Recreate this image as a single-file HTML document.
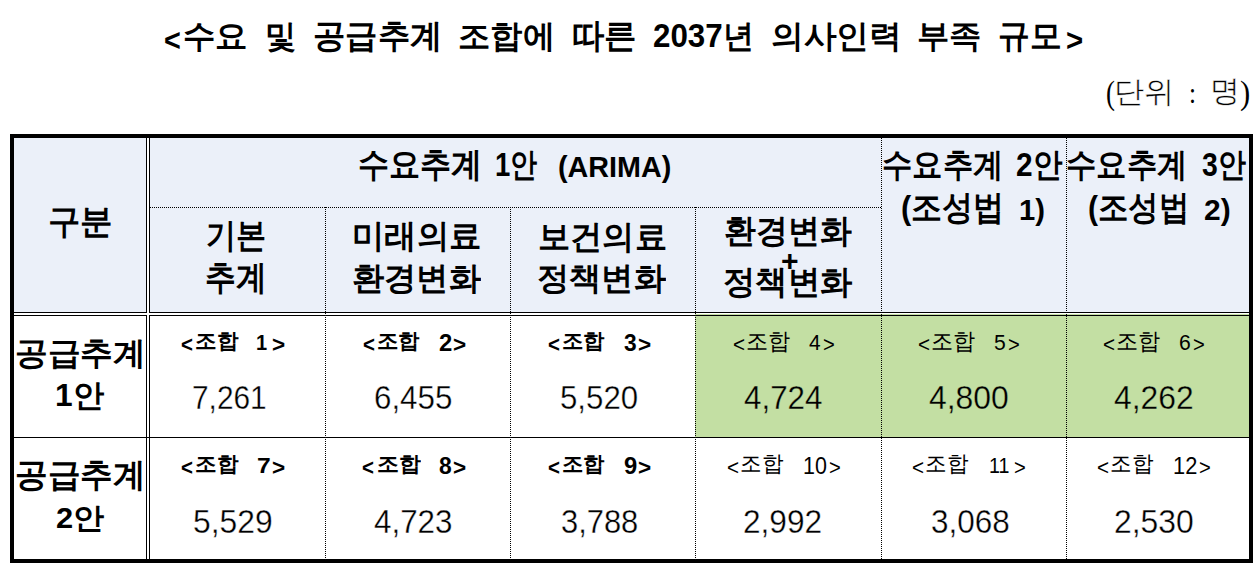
<!DOCTYPE html>
<html><head><meta charset="utf-8"><style>
html,body{margin:0;padding:0;background:#fff;width:1260px;height:573px;overflow:hidden}
#g div{position:absolute}
.t{position:absolute;white-space:nowrap;line-height:1;color:#000;transform-origin:0 0;font-family:"Liberation Sans",sans-serif}
.b{font-weight:bold}
.s{font-family:"Liberation Serif",serif}
</style></head><body>
<div id="g">
<div style="left:14px;top:138px;width:132px;height:174px;background:#EBF0F9"></div>
<div style="left:150px;top:138px;width:1099px;height:174px;background:#EBF0F9"></div>
<div style="left:147px;top:138px;width:2px;height:421px;background:#fff"></div>
<div style="left:14px;top:313px;width:1235px;height:2px;background:#fff"></div>
<div style="left:695px;top:314px;width:554px;height:123px;background:#C3DFA3"></div>
<div style="left:150px;top:207px;width:731px;height:1px;background:repeating-linear-gradient(90deg,#000 0 1px,transparent 1px 2px)"></div>
<div style="left:325px;top:207px;width:1px;height:352px;background:repeating-linear-gradient(180deg,#000 0 1px,transparent 1px 2px)"></div>
<div style="left:510px;top:207px;width:1px;height:352px;background:repeating-linear-gradient(180deg,#000 0 1px,transparent 1px 2px)"></div>
<div style="left:695px;top:207px;width:1px;height:352px;background:repeating-linear-gradient(180deg,#000 0 1px,transparent 1px 2px)"></div>
<div style="left:881px;top:138px;width:1px;height:421px;background:repeating-linear-gradient(180deg,#000 0 1px,transparent 1px 2px)"></div>
<div style="left:1066px;top:138px;width:1px;height:421px;background:repeating-linear-gradient(180deg,#000 0 1px,transparent 1px 2px)"></div>
<div style="left:146px;top:138px;width:1px;height:175px;background:#000"></div>
<div style="left:146px;top:315px;width:1px;height:244px;background:#000"></div>
<div style="left:149px;top:138px;width:1px;height:175px;background:#000"></div>
<div style="left:149px;top:315px;width:1px;height:244px;background:#000"></div>
<div style="left:14px;top:312px;width:133px;height:1px;background:#000"></div>
<div style="left:149px;top:312px;width:1100px;height:1px;background:#000"></div>
<div style="left:14px;top:315px;width:133px;height:1px;background:#000"></div>
<div style="left:149px;top:315px;width:1100px;height:1px;background:#000"></div>
<div style="left:14px;top:437px;width:1235px;height:1px;background:#000"></div>
<div style="left:10px;top:134px;width:1243px;height:4px;background:#000"></div>
<div style="left:10px;top:559px;width:1243px;height:4px;background:#000"></div>
<div style="left:10px;top:134px;width:4px;height:429px;background:#000"></div>
<div style="left:1249px;top:134px;width:4px;height:429px;background:#000"></div>
</div>
<span class="t b" style="left:163.95px;top:25.85px;font-size:30.75px;transform:scaleX(0.9342)">&lt;</span>
<span class="t b" style="left:183.1px;top:19.85px;font-size:32.02px;transform:scaleX(1.0116)">수요</span>
<span class="t b" style="left:265.03px;top:21.4px;font-size:31.92px;transform:scaleX(0.9721)">및</span>
<span class="t b" style="left:313.05px;top:19.85px;font-size:32.71px;transform:scaleX(0.9797)">공급추계</span>
<span class="t b" style="left:458.41px;top:20.9px;font-size:31.88px;transform:scaleX(1.0087)">조합에</span>
<span class="t b" style="left:571.8px;top:19.25px;font-size:33.61px;transform:scaleX(0.9523)">따른</span>
<span class="t b" style="left:653.0px;top:20.15px;font-size:32.35px;transform:scaleX(0.9688)">2037년</span>
<span class="t b" style="left:771.05px;top:21.15px;font-size:31.64px;transform:scaleX(1.0227)">의사인력</span>
<span class="t b" style="left:917.2px;top:21.4px;font-size:31.92px;transform:scaleX(1.0097)">부족</span>
<span class="t b" style="left:998.0px;top:18.9px;font-size:33.29px;transform:scaleX(0.963)">규모</span>
<span class="t b" style="left:1065.9px;top:25.85px;font-size:30.75px;transform:scaleX(0.9555)">&gt;</span>
<span class="t s" style="left:1106.05px;top:75.8px;font-size:33.49px;transform:scaleX(0.8007)">(</span>
<span class="t s" style="left:1114.1px;top:76.65px;font-size:30.4px;transform:scaleX(1.0077);-webkit-text-stroke:0.5px #fff">단위</span>
<span class="t s" style="left:1188.95px;top:78.0px;font-size:30.34px;transform:scaleX(0.8297)">:</span>
<span class="t s" style="left:1209.7px;top:76.35px;font-size:29.91px;transform:scaleX(1.0003);-webkit-text-stroke:0.5px #fff">명</span>
<span class="t s" style="left:1239.85px;top:76.9px;font-size:32.73px;transform:scaleX(0.9409)">)</span>
<span class="t b" style="left:47.8px;top:205.35px;font-size:33.72px;transform:scaleX(0.9539)">구분</span>
<span class="t b" style="left:357.61px;top:147.1px;font-size:33.98px;transform:scaleX(0.9138)">수요추계</span>
<span class="t b" style="left:495.46px;top:148.1px;font-size:33.49px;transform:scaleX(0.8214)">1안</span>
<span class="t b" style="left:558.1px;top:152.35px;font-size:29.51px;transform:scaleX(0.9738)">(ARIMA)</span>
<span class="t b" style="left:881.57px;top:149.15px;font-size:32.88px;transform:scaleX(0.9185)">수요추계</span>
<span class="t b" style="left:1016.1px;top:148.0px;font-size:33.34px;transform:scaleX(0.8951)">2안</span>
<span class="t b" style="left:901.35px;top:190.9px;font-size:33.7px;transform:scaleX(0.9122)">(조성법</span>
<span class="t b" style="left:1018.81px;top:195.08px;font-size:29.31px;transform:scaleX(0.997)">1)</span>
<span class="t b" style="left:1066.31px;top:149.15px;font-size:32.88px;transform:scaleX(0.9185)">수요추계</span>
<span class="t b" style="left:1201.7px;top:148.0px;font-size:33.34px;transform:scaleX(0.8498)">3안</span>
<span class="t b" style="left:1088.25px;top:190.9px;font-size:33.7px;transform:scaleX(0.8941)">(조성법</span>
<span class="t b" style="left:1203.99px;top:195.08px;font-size:29.31px;transform:scaleX(1.0226)">2)</span>
<span class="t b" style="left:206.49px;top:218.31px;font-size:34.42px;transform:scaleX(0.8836)">기본</span>
<span class="t b" style="left:205.15px;top:260.2px;font-size:33.98px;transform:scaleX(0.9063)">추계</span>
<span class="t b" style="left:352.46px;top:220.4px;font-size:32.51px;transform:scaleX(0.98)">미래의료</span>
<span class="t b" style="left:352.1px;top:261.75px;font-size:32.38px;transform:scaleX(1.0076)">환경변화</span>
<span class="t b" style="left:537.94px;top:220.6px;font-size:32.72px;transform:scaleX(0.9753)">보건의료</span>
<span class="t b" style="left:537.1px;top:261.75px;font-size:32.38px;transform:scaleX(1.0076)">정책변화</span>
<span class="t b" style="left:723.91px;top:214.95px;font-size:32.88px;transform:scaleX(0.9663)">환경변화</span>
<span class="t b" style="left:780.65px;top:245.85px;font-size:29.76px;transform:scaleX(1.012)">+</span>
<span class="t b" style="left:723.11px;top:265.85px;font-size:32.85px;transform:scaleX(0.9791)">정책변화</span>
<span class="t b" style="left:15.01px;top:336.6px;font-size:32.34px;transform:scaleX(1.0222)">공급추계</span>
<span class="t b" style="left:55.11px;top:380.2px;font-size:31.44px;transform:scaleX(1.0087)">1안</span>
<span class="t b" style="left:14.82px;top:458.85px;font-size:32.85px;transform:scaleX(0.9879)">공급추계</span>
<span class="t b" style="left:55.82px;top:504.25px;font-size:28.74px;transform:scaleX(1.0734)">2안</span>
<span class="t b" style="left:181.08px;top:333.9px;font-size:22.25px;transform:scaleX(0.9171)">&lt;</span>
<span class="t b" style="left:195.05px;top:330.85px;font-size:20.87px;transform:scaleX(1.0291)">조합</span>
<span class="t b" style="left:271.65px;top:333.9px;font-size:22.25px;transform:scaleX(1.0126)">&gt;</span>
<span class="t b" style="left:256.34px;top:332.1px;font-size:22.25px;transform:scaleX(0.9)">1</span>
<span class="t b" style="left:363.22px;top:333.9px;font-size:22.25px;transform:scaleX(0.9171)">&lt;</span>
<span class="t b" style="left:376.78px;top:330.85px;font-size:20.87px;transform:scaleX(1.0199)">조합</span>
<span class="t b" style="left:452.65px;top:333.9px;font-size:22.25px;transform:scaleX(1.0126)">&gt;</span>
<span class="t b" style="left:439.03px;top:331.1px;font-size:23.88px;transform:scaleX(1.0009)">2</span>
<span class="t b" style="left:548.22px;top:333.9px;font-size:22.25px;transform:scaleX(0.9171)">&lt;</span>
<span class="t b" style="left:561.78px;top:330.85px;font-size:20.87px;transform:scaleX(1.0199)">조합</span>
<span class="t b" style="left:637.65px;top:333.9px;font-size:22.25px;transform:scaleX(1.0126)">&gt;</span>
<span class="t b" style="left:624.03px;top:331.1px;font-size:23.88px;transform:scaleX(0.9517)">3</span>
<span class="t" style="left:732.98px;top:333.9px;font-size:22.32px;transform:scaleX(0.9249)">&lt;</span>
<span class="t" style="left:745.85px;top:329.85px;font-size:22.76px;transform:scaleX(0.9622)">조합</span>
<span class="t" style="left:822.75px;top:333.9px;font-size:22.32px;transform:scaleX(0.9029)">&gt;</span>
<span class="t" style="left:809.1px;top:332.1px;font-size:22.25px;transform:scaleX(0.9379)">4</span>
<span class="t" style="left:917.98px;top:333.9px;font-size:22.32px;transform:scaleX(0.9249)">&lt;</span>
<span class="t" style="left:930.85px;top:329.85px;font-size:22.76px;transform:scaleX(0.9622)">조합</span>
<span class="t" style="left:1007.75px;top:333.9px;font-size:22.32px;transform:scaleX(0.9029)">&gt;</span>
<span class="t" style="left:994.0px;top:332.1px;font-size:22.25px;transform:scaleX(0.9499)">5</span>
<span class="t" style="left:1102.98px;top:333.9px;font-size:22.32px;transform:scaleX(0.9249)">&lt;</span>
<span class="t" style="left:1115.85px;top:329.85px;font-size:22.76px;transform:scaleX(0.9622)">조합</span>
<span class="t" style="left:1192.75px;top:333.9px;font-size:22.32px;transform:scaleX(0.9029)">&gt;</span>
<span class="t" style="left:1179.0px;top:332.1px;font-size:22.25px;transform:scaleX(0.9499)">6</span>
<span class="t b" style="left:181.08px;top:456.9px;font-size:22.25px;transform:scaleX(0.9171)">&lt;</span>
<span class="t b" style="left:195.05px;top:453.85px;font-size:20.87px;transform:scaleX(1.0291)">조합</span>
<span class="t b" style="left:271.65px;top:456.9px;font-size:22.25px;transform:scaleX(1.0126)">&gt;</span>
<span class="t b" style="left:257.19px;top:455.1px;font-size:22.25px;transform:scaleX(1.1061)">7</span>
<span class="t b" style="left:361.88px;top:456.9px;font-size:22.25px;transform:scaleX(0.9171)">&lt;</span>
<span class="t b" style="left:377.26px;top:453.85px;font-size:20.87px;transform:scaleX(1.0458)">조합</span>
<span class="t b" style="left:452.65px;top:456.9px;font-size:22.25px;transform:scaleX(1.0126)">&gt;</span>
<span class="t b" style="left:439.13px;top:454.1px;font-size:23.88px;transform:scaleX(0.9561)">8</span>
<span class="t b" style="left:547.67px;top:456.9px;font-size:22.25px;transform:scaleX(0.9171)">&lt;</span>
<span class="t b" style="left:562.16px;top:453.85px;font-size:20.87px;transform:scaleX(1.0162)">조합</span>
<span class="t b" style="left:637.65px;top:456.9px;font-size:22.25px;transform:scaleX(1.0126)">&gt;</span>
<span class="t b" style="left:623.81px;top:454.1px;font-size:23.88px;transform:scaleX(0.9968)">9</span>
<span class="t" style="left:726.72px;top:456.9px;font-size:22.32px;transform:scaleX(0.9249)">&lt;</span>
<span class="t" style="left:740.15px;top:453.35px;font-size:21.94px;transform:scaleX(0.9824)">조합</span>
<span class="t" style="left:828.65px;top:456.9px;font-size:22.32px;transform:scaleX(0.9029)">&gt;</span>
<span class="t" style="left:803.13px;top:454.1px;font-size:23.88px;transform:scaleX(0.8987)">10</span>
<span class="t" style="left:911.72px;top:456.9px;font-size:22.32px;transform:scaleX(0.9249)">&lt;</span>
<span class="t" style="left:925.15px;top:453.35px;font-size:21.94px;transform:scaleX(0.9824)">조합</span>
<span class="t" style="left:1013.65px;top:456.9px;font-size:22.32px;transform:scaleX(0.9029)">&gt;</span>
<span class="t" style="left:988.65px;top:455.1px;font-size:22.25px;transform:scaleX(0.8835)">11</span>
<span class="t" style="left:1096.72px;top:456.9px;font-size:22.32px;transform:scaleX(0.9249)">&lt;</span>
<span class="t" style="left:1110.15px;top:453.35px;font-size:21.94px;transform:scaleX(0.9824)">조합</span>
<span class="t" style="left:1198.65px;top:456.9px;font-size:22.32px;transform:scaleX(0.9029)">&gt;</span>
<span class="t" style="left:1172.71px;top:454.1px;font-size:23.88px;transform:scaleX(0.9142)">12</span>
<span class="t" style="left:192.4px;top:380.95px;font-size:33.93px;transform:scaleX(0.8798);-webkit-text-stroke:0.35px #fff">7,261</span>
<span class="t" style="left:373.65px;top:380.95px;font-size:33.79px;transform:scaleX(0.9265);-webkit-text-stroke:0.35px #fff">6,455</span>
<span class="t" style="left:559.81px;top:380.95px;font-size:33.93px;transform:scaleX(0.9199);-webkit-text-stroke:0.35px #fff">5,520</span>
<span class="t" style="left:743.9px;top:380.95px;font-size:33.93px;transform:scaleX(0.9242);-webkit-text-stroke:0.35px #C3DFA3">4,724</span>
<span class="t" style="left:928.81px;top:380.95px;font-size:33.93px;transform:scaleX(0.9395);-webkit-text-stroke:0.35px #C3DFA3">4,800</span>
<span class="t" style="left:1113.65px;top:380.95px;font-size:33.93px;transform:scaleX(0.9373);-webkit-text-stroke:0.35px #C3DFA3">4,262</span>
<span class="t" style="left:193.12px;top:504.95px;font-size:33.93px;transform:scaleX(0.9377);-webkit-text-stroke:0.35px #fff">5,529</span>
<span class="t" style="left:373.94px;top:504.95px;font-size:33.93px;transform:scaleX(0.9251);-webkit-text-stroke:0.35px #fff">4,723</span>
<span class="t" style="left:560.81px;top:504.95px;font-size:33.93px;transform:scaleX(0.9102);-webkit-text-stroke:0.35px #fff">3,788</span>
<span class="t" style="left:742.75px;top:504.95px;font-size:33.93px;transform:scaleX(0.932);-webkit-text-stroke:0.35px #fff">2,992</span>
<span class="t" style="left:930.9px;top:504.95px;font-size:33.93px;transform:scaleX(0.9279);-webkit-text-stroke:0.35px #fff">3,068</span>
<span class="t" style="left:1113.9px;top:504.95px;font-size:33.93px;transform:scaleX(0.9398);-webkit-text-stroke:0.35px #fff">2,530</span>
</body></html>
